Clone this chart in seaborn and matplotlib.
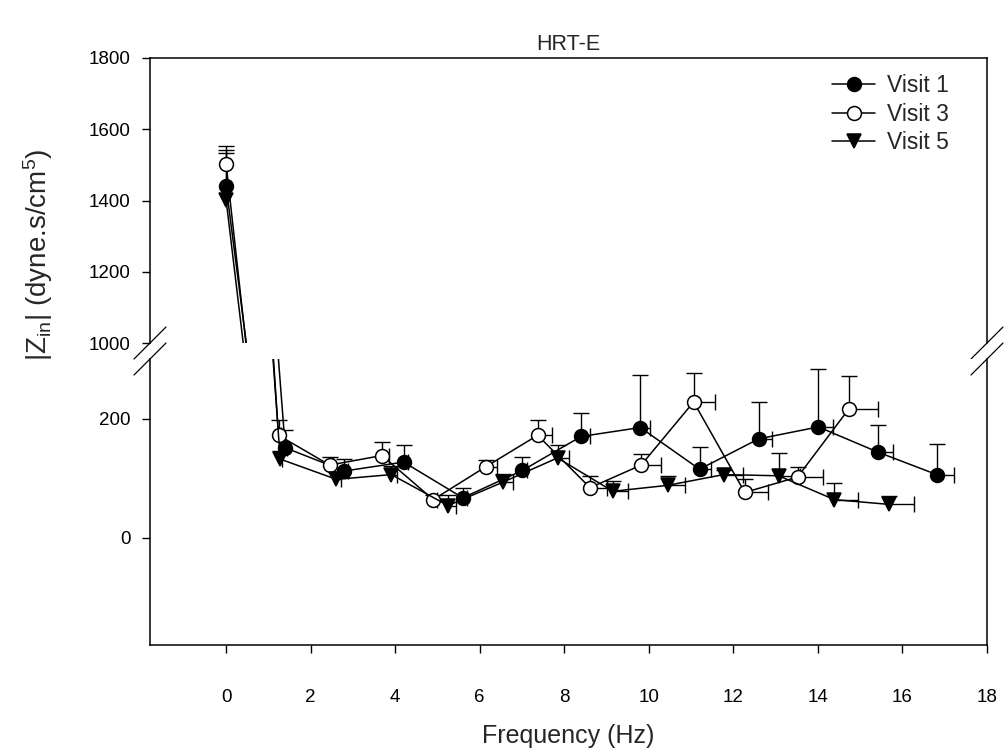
import numpy as np
import pandas as pd
import matplotlib
matplotlib.use("Agg")
import matplotlib.pyplot as plt
import seaborn as sns

# Input impedance |Zin| versus oscillation frequency, three visits (mean, +SEM)
visits = ["Visit 1", "Visit 3", "Visit 5"]

freq_v1 = [0.0, 1.40, 2.80, 4.20, 5.60, 7.01, 8.40, 9.80, 11.20, 12.60, 14.01, 15.41, 16.81]
zin_v1 = [1440, 151, 112, 127, 67, 113, 170, 185, 115, 166, 186, 144, 106]
zerr_v1 = [103, 30, 20, 28, 17, 22, 40, 88, 37, 61, 97, 45, 51]
ferr_v1 = [0.0, 0.05, 0.08, 0.10, 0.10, 0.12, 0.22, 0.22, 0.28, 0.32, 0.35, 0.37, 0.41]

freq_v3 = [0.0, 1.24, 2.45, 3.69, 4.90, 6.14, 7.37, 8.61, 9.82, 11.06, 12.27, 13.52, 14.73]
zin_v3 = [1503, 172, 122, 138, 64, 119, 172, 84, 122, 228, 76, 102, 216]
zerr_v3 = [49, 26, 14, 23, 8, 11, 25, 20, 18, 48, 22, 17, 56]
ferr_v3 = [0.0, 0.05, 0.08, 0.16, 0.10, 0.26, 0.35, 0.40, 0.46, 0.50, 0.55, 0.61, 0.68]

freq_v5 = [0.0, 1.28, 2.61, 3.91, 5.25, 6.54, 7.84, 9.15, 10.45, 11.77, 13.07, 14.39, 15.68]
zin_v5 = [1402, 132, 98, 106, 54, 93, 134, 78, 88, 106, 104, 64, 56]
zerr_v5 = [131, 14, 12, 14, 17, 14, 21, 17, 16, 8, 38, 28, 14]
ferr_v5 = [0.0, 0.05, 0.10, 0.13, 0.18, 0.24, 0.28, 0.35, 0.41, 0.46, 0.50, 0.55, 0.60]

x_ticks = [0, 2, 4, 6, 8, 10, 12, 14, 16, 18]
y_ticks_upper = [1000, 1200, 1400, 1600, 1800]
y_ticks_lower = [0, 200]

series = {
    "Visit 1": (freq_v1, zin_v1, zerr_v1, ferr_v1),
    "Visit 3": (freq_v3, zin_v3, zerr_v3, ferr_v3),
    "Visit 5": (freq_v5, zin_v5, zerr_v5, ferr_v5),
}
frames = []
for name in visits:
    f, z, ze, fe = series[name]
    frames.append(pd.DataFrame({"visit": name, "freq": f, "zin": z,
                                "zerr": ze, "ferr": fe}))
df = pd.concat(frames, ignore_index=True)

marker_style = {
    "Visit 1": dict(marker="o", markerfacecolor="black"),
    "Visit 3": dict(marker="o", markerfacecolor="white"),
    "Visit 5": dict(marker="v", markerfacecolor="black"),
}

sns.set_style("ticks")
plt.rcParams["font.family"] = ["Liberation Sans", "DejaVu Sans"]
plt.rcParams["mathtext.fontset"] = "custom"
plt.rcParams["mathtext.rm"] = "Liberation Sans"
plt.rcParams["mathtext.it"] = "Liberation Sans:italic"
plt.rcParams["mathtext.bf"] = "Liberation Sans:bold"

W, H = 1007, 751
fig = plt.figure(figsize=(W / 100, H / 100), dpi=100)

left, right = 150, 987
ax_top = fig.add_axes([left / W, 1 - 343 / H, (right - left) / W, (343 - 58) / H])
ax_bot = fig.add_axes([left / W, 1 - 645 / H, (right - left) / W, (645 - 359) / H])


def hide_base_caps(container, base, axis):
    # keep only the cap at the far end of each one-sided error bar
    for cap in container.lines[1]:
        data = cap.get_ydata() if axis == "y" else cap.get_xdata()
        if len(data) == len(base) and np.allclose(np.asarray(data, float), base):
            cap.set_visible(False)


for ax in (ax_top, ax_bot):
    for name in visits:
        sub = df[df["visit"] == name]
        fr = sub["freq"].to_numpy(float)
        zv = sub["zin"].to_numpy(float)
        ze = sub["zerr"].to_numpy(float)
        fe = sub["ferr"].to_numpy(float)

        eb_y = ax.errorbar(fr, zv, yerr=[np.zeros_like(ze), ze], fmt="none",
                           ecolor="black", elinewidth=1.0, capsize=6,
                           capthick=1.0, zorder=2)
        hide_base_caps(eb_y, zv, "y")

        has_fe = fe > 0
        eb_x = ax.errorbar(fr[has_fe], zv[has_fe],
                           xerr=[np.zeros(has_fe.sum()), fe[has_fe]], fmt="none",
                           ecolor="black", elinewidth=1.0, capsize=6,
                           capthick=1.0, zorder=2)
        hide_base_caps(eb_x, fr[has_fe], "x")

        sns.lineplot(data=sub, x="freq", y="zin", sort=False, estimator=None,
                     color="black", linewidth=1.1, markersize=10,
                     markeredgecolor="black", markeredgewidth=1.1,
                     label=name if ax is ax_top else None,
                     legend=(ax is ax_top), ax=ax, zorder=3,
                     **marker_style[name])

# upper segment of the broken axis
ax_top.set_xlim(-1.8, 18)
ax_top.set_ylim(1000, 1800)
ax_top.set_yticks(y_ticks_upper)
ax_top.spines["bottom"].set_visible(False)
ax_top.tick_params(axis="x", bottom=False, labelbottom=False)
ax_top.set_xlabel("")
ax_top.set_ylabel("")

# lower segment
ax_bot.set_xlim(-1.8, 18)
ax_bot.set_ylim(-180, 300)
ax_bot.set_yticks(y_ticks_lower)
ax_bot.set_xticks(x_ticks)
ax_bot.spines["top"].set_visible(False)
ax_bot.set_xlabel("")
ax_bot.set_ylabel("")

for ax in (ax_top, ax_bot):
    for sp in ax.spines.values():
        sp.set_color("black")
        sp.set_linewidth(1.1)
    ax.tick_params(axis="both", direction="out", length=6, width=1.0,
                   colors="black", labelsize=13.5)
    ax.tick_params(axis="y", pad=8)
    ax.set_facecolor("white")
ax_bot.tick_params(axis="x", pad=26)

# break marks on both vertical spines
dx = 16 / (right - left)
for ax, y0, hgt in ((ax_top, 0.0, 285), (ax_bot, 1.0, 286)):
    dy = 16 / hgt
    for x0 in (0.0, 1.0):
        ax.plot([x0 - dx, x0 + dx], [y0 - dy, y0 + dy], transform=ax.transAxes,
                color="black", linewidth=0.9, clip_on=False, zorder=5)

leg = ax_top.legend(loc="upper right", bbox_to_anchor=(951 / W, 1 - 72 / H),
                    bbox_transform=fig.transFigure, frameon=False, fontsize=16.5,
                    handlelength=1.9, handletextpad=0.5, labelspacing=0.24,
                    borderpad=0.1, borderaxespad=0)

fig.text(568 / W, 1 - 44 / H, "HRT-E", ha="center", va="center", fontsize=15.5)
fig.text(568 / W, 1 - 736 / H, "Frequency (Hz)", ha="center", va="center",
         fontsize=18)
fig.text(38 / W, 1 - 255 / H, r"|Z$_{\mathrm{in}}$| (dyne.s/cm$^{5}$)",
         ha="center", va="center", rotation=90, fontsize=20)

fig.savefig("out.png", dpi=100, facecolor="white")
